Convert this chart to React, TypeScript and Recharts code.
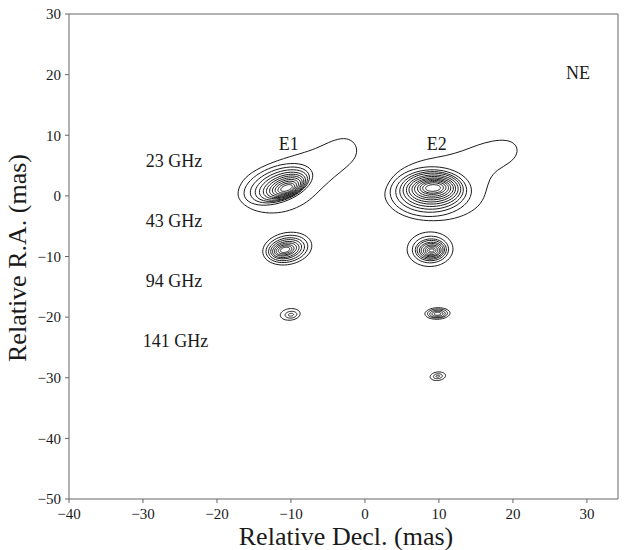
import React from "react";
import {
  LineChart,
  Line,
  XAxis,
  YAxis,
  ReferenceLine,
  ReferenceDot,
} from "recharts";

// axis ticks
const xTicks = [-40, -30, -20, -10, 0, 10, 20, 30];
const yTicks = [-50, -40, -30, -20, -10, 0, 10, 20, 30];
const xMax = 34.2;

// outermost 23 GHz contours (irregular, with the jet tail)
const e1k23Outer = [
  [-17.3, 0.6], [-17.0, -0.8], [-15.6, -2.2], [-13.5, -2.9], [-11.2, -2.8],
  [-9.2, -2.0], [-7.5, -0.8], [-5.8, 1.3], [-4.1, 3.2], [-2.4, 4.8],
  [-1.2, 6.3], [-1.0, 8.0], [-1.8, 9.3], [-3.2, 9.6], [-5.0, 8.8],
  [-6.6, 7.8], [-8.6, 7.0], [-11.8, 5.9], [-14.9, 4.3], [-16.6, 2.6],
];
const e2k23Outer = [
  [2.5, 0.8], [2.8, -1.0], [4.0, -2.6], [6.0, -3.7], [8.5, -4.2],
  [11.5, -4.0], [14.0, -3.0], [15.8, -1.3], [16.4, 0.8], [16.8, 2.8],
  [17.8, 4.3], [19.6, 5.4], [20.7, 6.9], [20.5, 8.5], [19.2, 9.3],
  [17.2, 9.1], [15.2, 8.4], [13.2, 7.4], [11.0, 6.6], [8.3, 6.1],
  [5.8, 5.1], [3.8, 3.5],
];

// inner contours: [centre x, centre y, semi-axis a, semi-axis b]
const e1k23Rings = [
  [-11.7, 1.9, 5.0, 2.9], [-11.5, 1.8, 4.3, 2.5], [-11.3, 1.7, 3.8, 2.2],
  [-11.15, 1.6, 3.35, 1.95], [-11.0, 1.55, 2.95, 1.7], [-10.9, 1.5, 2.6, 1.5],
  [-10.8, 1.45, 2.25, 1.3], [-10.75, 1.4, 1.9, 1.1], [-10.7, 1.35, 1.55, 0.9],
  [-10.65, 1.3, 1.2, 0.7], [-10.6, 1.3, 0.85, 0.45],
];
const e2k23Rings = [
  [8.9, 0.7, 5.5, 4.1], [8.95, 0.8, 4.8, 3.5], [9.0, 0.9, 4.3, 3.1],
  [9.05, 1.0, 3.9, 2.75], [9.1, 1.05, 3.5, 2.4], [9.1, 1.1, 3.15, 2.1],
  [9.15, 1.15, 2.8, 1.8], [9.15, 1.2, 2.45, 1.55], [9.2, 1.25, 2.1, 1.3],
  [9.2, 1.3, 1.75, 1.05], [9.2, 1.3, 1.4, 0.85], [9.2, 1.3, 1.0, 0.55],
];
const e1k43Rings = [
  [-10.5, -8.7, 3.4, 2.6], [-10.55, -8.75, 2.9, 2.15], [-10.6, -8.8, 2.5, 1.8],
  [-10.65, -8.8, 2.15, 1.5], [-10.7, -8.85, 1.85, 1.25], [-10.75, -8.85, 1.55, 1.0],
  [-10.8, -8.9, 1.25, 0.8], [-10.8, -8.9, 0.95, 0.6], [-10.8, -8.9, 0.65, 0.4],
];
const e2k43Rings = [
  [8.8, -8.8, 3.1, 2.85], [8.85, -8.85, 2.45, 2.2], [8.9, -8.9, 2.1, 1.8],
  [8.9, -8.9, 1.85, 1.55], [8.95, -8.95, 1.6, 1.3], [8.95, -8.95, 1.35, 1.1],
  [9.0, -9.0, 1.1, 0.9], [9.0, -9.0, 0.85, 0.7], [9.0, -9.0, 0.6, 0.45],
  [9.0, -9.0, 0.35, 0.25],
];
const e1k94Rings = [
  [-10.1, -19.55, 1.35, 0.95], [-10.0, -19.6, 0.8, 0.55], [-10.0, -19.6, 0.35, 0.22],
];
const e2k94Rings = [
  [9.8, -19.4, 1.7, 0.95], [9.8, -19.4, 1.35, 0.75], [9.8, -19.45, 1.05, 0.6],
  [9.8, -19.45, 0.75, 0.42], [9.8, -19.45, 0.45, 0.25],
];
const e2k141Rings = [
  [9.85, -29.75, 1.05, 0.7], [9.85, -29.75, 0.6, 0.4], [9.85, -29.75, 0.25, 0.15],
];

// ring groups with their tilt (degrees, in data units)
const ringGroups = [
  { rings: e1k23Rings, tilt: 27 },
  { rings: e2k23Rings, tilt: 3 },
  { rings: e1k43Rings, tilt: 20 },
  { rings: e2k43Rings, tilt: 5 },
  { rings: e1k94Rings, tilt: 10 },
  { rings: e2k94Rings, tilt: 3 },
  { rings: e2k141Rings, tilt: 10 },
];

// text annotations [text, x, y]
const notes: [string, number, number][] = [
  ["23 GHz", -25.8, 5.8],
  ["43 GHz", -25.8, -4.1],
  ["94 GHz", -25.8, -14.0],
  ["141 GHz", -25.6, -23.9],
  ["E1", -10.3, 8.7],
  ["E2", 9.7, 8.7],
  ["NE", 28.8, 20.3],
];

const SERIF = "'Liberation Serif', 'DejaVu Serif', serif";
const INK = "#1a1a1a";
const FRAME = "#666";

function ellipse(cx: number, cy: number, a: number, b: number, deg: number) {
  const th = (deg * Math.PI) / 180;
  const pts = [];
  for (let i = 0; i < 48; i++) {
    const t = (i / 48) * Math.PI * 2;
    const u = a * Math.cos(t);
    const v = b * Math.sin(t);
    pts.push({
      x: cx + u * Math.cos(th) - v * Math.sin(th),
      y: cy + u * Math.sin(th) + v * Math.cos(th),
    });
  }
  return pts;
}

const toPts = (arr: number[][]) => arr.map(([x, y]) => ({ x, y }));

const contours: { pts: { x: number; y: number }[]; curve: "basisClosed" | "linearClosed" }[] = [
  { pts: toPts(e1k23Outer), curve: "basisClosed" },
  { pts: toPts(e2k23Outer), curve: "basisClosed" },
  ...ringGroups.flatMap((g) =>
    g.rings.map(([cx, cy, a, b]) => ({
      pts: ellipse(cx, cy, a, b, g.tilt),
      curve: "linearClosed" as const,
    }))
  ),
];

const minus = (v: number) => String(v).replace("-", "\u2212");

export default function App() {
  const tick = { fill: INK, fontSize: 15, fontFamily: SERIF };
  return (
    <div style={{ position: "absolute", left: 0, top: 0 }}>
      <LineChart
        width={624}
        height={550}
        margin={{ top: 14, right: 6, bottom: 0, left: 0 }}
      >
        <XAxis
          type="number"
          dataKey="x"
          domain={[-40, xMax]}
          ticks={xTicks}
          allowDataOverflow
          height={51}
          tickSize={4}
          tickMargin={5}
          stroke={INK}
          axisLine={{ stroke: FRAME }}
          tickLine={{ stroke: FRAME }}
          tick={tick}
          tickFormatter={minus}
        />
        <YAxis
          type="number"
          domain={[-50, 30]}
          ticks={yTicks}
          allowDataOverflow
          width={69}
          tickSize={4}
          tickMargin={4}
          stroke={INK}
          axisLine={{ stroke: FRAME }}
          tickLine={{ stroke: FRAME }}
          tick={tick}
          tickFormatter={minus}
        />
        <ReferenceLine y={30} stroke={FRAME} />
        <ReferenceLine x={xMax} stroke={FRAME} />

        {contours.map((c, i) => (
          <Line
            key={i}
            data={c.pts}
            dataKey="y"
            type={c.curve}
            stroke={INK}
            strokeWidth={1}
            dot={false}
            activeDot={false}
            legendType="none"
            isAnimationActive={false}
          />
        ))}

        {notes.map(([t, x, y]) => (
          <ReferenceDot
            key={t}
            x={x}
            y={y}
            r={0}
            fill="none"
            stroke="none"
            label={{
              value: t,
              position: "center",
              fill: INK,
              fontSize: 18,
              fontFamily: SERIF,
            }}
          />
        ))}

        <text
          x={346}
          y={545}
          textAnchor="middle"
          fontSize={26}
          fontFamily={SERIF}
          fill={INK}
        >
          Relative Decl. (mas)
        </text>
        <text
          x={26}
          y={258}
          transform="rotate(-90 26 258)"
          textAnchor="middle"
          fontSize={26}
          fontFamily={SERIF}
          fill={INK}
        >
          Relative R.A. (mas)
        </text>
      </LineChart>
    </div>
  );
}
